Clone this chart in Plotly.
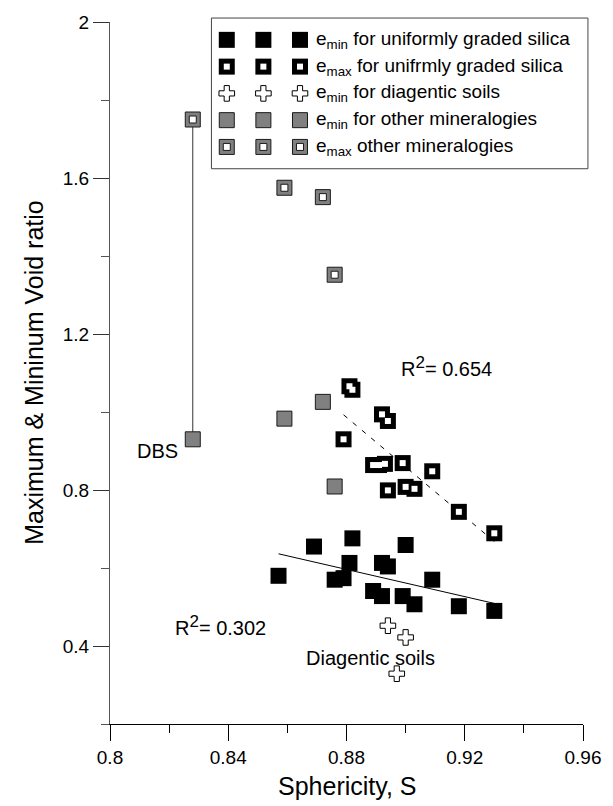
import numpy as np
import plotly.graph_objects as go

# ---- data: sphericity S vs. limiting void ratios ----
silica_emin_s = [0.857, 0.869, 0.882, 0.900, 0.881, 0.876, 0.879, 0.892, 0.894,
                 0.909, 0.889, 0.892, 0.899, 0.903, 0.918, 0.930]
silica_emin_e = [0.580, 0.655, 0.676, 0.659, 0.613, 0.570, 0.574, 0.613, 0.604,
                 0.570, 0.541, 0.528, 0.528, 0.507, 0.502, 0.490]

silica_emax_s = [0.881, 0.882, 0.892, 0.894, 0.879, 0.889, 0.891, 0.893, 0.899,
                 0.909, 0.894, 0.900, 0.903, 0.918, 0.930]
silica_emax_e = [1.066, 1.057, 0.994, 0.977, 0.930, 0.864, 0.864, 0.867, 0.869,
                 0.848, 0.799, 0.808, 0.803, 0.744, 0.689]

diag_s = [0.894, 0.900, 0.897]
diag_emin = [0.452, 0.422, 0.329]

other_s = [0.828, 0.859, 0.872, 0.876]
other_emin = [0.930, 0.983, 1.026, 0.809]
other_emax = [1.750, 1.575, 1.551, 1.352]

x_ticks = [0.8, 0.84, 0.88, 0.92, 0.96]
x_tick_text = ["0.8", "0.84", "0.88", "0.92", "0.96"]
y_ticks = [0.4, 0.8, 1.2, 1.6, 2.0]
y_tick_text = ["0.4", "0.8", "1.2", "1.6", "2"]

legend_labels = [
    "e<sub>min</sub> for uniformly graded silica",
    "e<sub>max</sub> for unifrmly graded silica",
    "e<sub>min</sub> for diagentic soils",
    "e<sub>min</sub> for other mineralogies",
    "e<sub>max</sub> other mineralogies",
]

# ---- page geometry ----
W, H = 613, 806
ML, MR, MT, MB = 110, 25, 16, 82
FONT = "Liberation Sans, Arial, sans-serif"
GRAY = "#808080"
EDGE = "#1a1a1a"

# marker layers for each series style (drawn bottom to top)
STYLES = {
    "emin_silica": [dict(symbol="square", size=16, color="black", line=dict(width=0))],
    "emax_silica": [dict(symbol="square", size=16, color="black", line=dict(width=0)),
                    dict(symbol="square", size=6, color="white", line=dict(width=0))],
    "diag": [dict(symbol="cross", size=13, color="white", line=dict(color="black", width=1))],
    "emin_other": [dict(symbol="square", size=15, color=GRAY, line=dict(color=EDGE, width=1))],
    "emax_other": [dict(symbol="square", size=15, color=GRAY, line=dict(color=EDGE, width=1)),
                   dict(symbol="square", size=7, color="white", line=dict(color=EDGE, width=1))],
}
legend_styles = ["emin_silica", "emax_silica", "diag", "emin_other", "emax_other"]

fig = go.Figure()


def add_points(xs, ys, style, xaxis="x", yaxis="y"):
    for mk in STYLES[style]:
        fig.add_trace(go.Scatter(x=xs, y=ys, mode="markers", marker=mk,
                                 xaxis=xaxis, yaxis=yaxis, showlegend=False,
                                 cliponaxis=False, hoverinfo="skip"))


def fit_line(xs, ys):
    k, b = np.polyfit(xs, ys, 1)
    xx = np.array([min(xs), max(xs)])
    return xx, k * xx + b


# DBS: e_max and e_min of the same soil joined by a vertical line
fig.add_trace(go.Scatter(x=[other_s[0], other_s[0]], y=[other_emax[0], other_emin[0]],
                         mode="lines", line=dict(color="#333", width=1),
                         showlegend=False, hoverinfo="skip"))

# linear trends for the silica sands
fx, fy = fit_line(silica_emax_s, silica_emax_e)
fig.add_trace(go.Scatter(x=fx, y=fy, mode="lines",
                         line=dict(color="black", width=1, dash="5px,7px"),
                         showlegend=False, hoverinfo="skip"))
fx, fy = fit_line(silica_emin_s, silica_emin_e)
fig.add_trace(go.Scatter(x=fx, y=fy, mode="lines",
                         line=dict(color="black", width=1),
                         showlegend=False, hoverinfo="skip"))

add_points(other_s, other_emax, "emax_other")
add_points(other_s, other_emin, "emin_other")
add_points(silica_emax_s, silica_emax_e, "emax_silica")
add_points(silica_emin_s, silica_emin_e, "emin_silica")
add_points(diag_s, diag_emin, "diag")

# ---- key box: an invisible pixel-scaled axis pair holds the sample markers ----
key_cols = [228, 265, 302]
key_rows = [34, 61, 88, 115, 142]
key_text_x = 316
for row_y, style in zip(key_rows, legend_styles):
    add_points(key_cols, [row_y] * len(key_cols), style, xaxis="x2", yaxis="y2")

annotations = []
for row_y, label in zip(key_rows, legend_labels):
    annotations.append(dict(x=key_text_x, y=row_y, xref="x2", yref="y2", text=label,
                            showarrow=False, xanchor="left", yanchor="middle",
                            font=dict(family=FONT, size=19, color="black")))

pw = W - ML - MR
ph = H - MT - MB
shapes = [dict(type="rect", xref="paper", yref="paper",
               x0=(212.5 - ML) / pw, x1=(593 - ML) / pw,
               y0=(H - MB - 164) / ph, y1=(H - MB - 12) / ph,
               line=dict(color="#444", width=1), fillcolor="rgba(0,0,0,0)",
               layer="below")]

# in-plot labels
text_font = dict(family=FONT, size=20, color="black")
r2 = 'R<sup><span style="font-size:17px">2</span></sup>= '
annotations += [
    dict(x=0.8162, y=0.901, text="DBS", showarrow=False, font=text_font),
    dict(x=0.8374, y=0.452, text=r2 + "0.302", showarrow=False, font=text_font),
    dict(x=0.9137, y=1.117, text=r2 + "0.654", showarrow=False, font=text_font),
    dict(x=0.8882, y=0.370, text="Diagentic soils", showarrow=False, font=text_font),
]

# axis titles
title_font = dict(family=FONT, size=25, color="black")
annotations += [
    dict(x=0.5, y=(H - MB - 787) / ph, xref="paper", yref="paper", text="Sphericity, S",
         showarrow=False, xanchor="center", yanchor="middle", font=title_font),
    dict(x=(33 - ML) / pw, y=(H - MB - 369) / ph, xref="paper", yref="paper",
         text="Maximum &amp; Mininum Void ratio", textangle=-90,
         showarrow=False, xanchor="center", yanchor="middle", font=title_font),
]

tick_font = dict(family=FONT, size=19, color="black")
fig.update_layout(
    width=W, height=H,
    margin=dict(l=ML, r=MR, t=MT, b=MB, pad=0),
    paper_bgcolor="white", plot_bgcolor="white",
    showlegend=False,
    annotations=annotations,
    shapes=shapes,
    xaxis=dict(range=[0.8, 0.96], showgrid=False, zeroline=False,
               showline=True, linecolor="black", linewidth=1,
               tickmode="array", tickvals=x_ticks, ticktext=x_tick_text,
               ticks="outside", ticklen=16, tickwidth=1, tickcolor="black",
               tickfont=tick_font,
               minor=dict(dtick=0.02, tick0=0.8, ticks="outside", ticklen=8,
                          tickwidth=1, tickcolor="black", showgrid=False)),
    yaxis=dict(range=[0.2, 2.0], showgrid=False, zeroline=False,
               showline=True, linecolor="#555", linewidth=1,
               tickmode="array", tickvals=y_ticks, ticktext=y_tick_text,
               ticks="outside", ticklen=16, tickwidth=1, tickcolor="#333",
               tickfont=tick_font,
               minor=dict(dtick=0.2, tick0=0.2, ticks="outside", ticklen=8,
                          tickwidth=1, tickcolor="#555", showgrid=False)),
    xaxis2=dict(range=[ML, W - MR], overlaying="x", anchor="y2", visible=False,
                domain=[0, 1]),
    yaxis2=dict(range=[H - MB, MT], overlaying="y", anchor="x2", visible=False,
                domain=[0, 1]),
)

fig.write_html("out.html")
